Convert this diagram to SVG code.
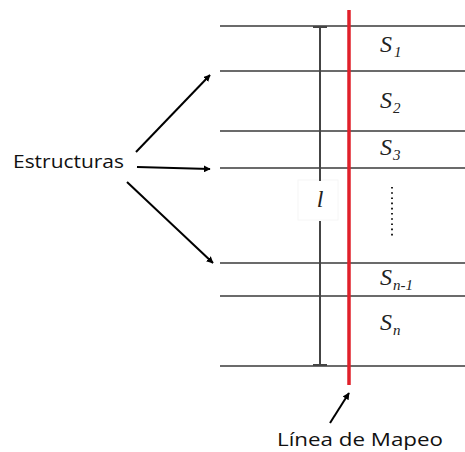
<svg xmlns="http://www.w3.org/2000/svg" width="465" height="452" viewBox="0 0 465 452">
<defs>
<marker id="ah" viewBox="0 0 10 10" refX="9" refY="5" markerWidth="7" markerHeight="7" markerUnits="userSpaceOnUse" orient="auto">
<path d="M0,0 L10,5 L0,10 Z" fill="#000"/>
</marker>
<style>
.hl{stroke:#6b6b6b;stroke-width:2}
.dim{stroke:#444;stroke-width:2}
.arr{stroke:#000;stroke-width:2;fill:none;marker-end:url(#ah)}
.S{font-family:"Liberation Serif",serif;font-style:italic;font-size:24px;fill:#222}
.sub{font-size:15px}
.lbl{font-family:"Open Sans","Liberation Sans",sans-serif;font-size:19px;fill:#111}
</style>
</defs>
<rect width="465" height="452" fill="#fff"/>
<g id="layers">
<line class="hl" x1="220" y1="26" x2="465" y2="26"/>
<line class="hl" x1="220" y1="71" x2="465" y2="71"/>
<line class="hl" x1="220" y1="131" x2="465" y2="131"/>
<line class="hl" x1="220" y1="168" x2="465" y2="168"/>
<line class="hl" x1="220" y1="263" x2="465" y2="263"/>
<line class="hl" x1="220" y1="296" x2="465" y2="296"/>
<line class="hl" x1="220" y1="366" x2="465" y2="366"/>
</g>
<g id="dimension">
<rect x="298" y="180" width="40" height="40" fill="#fff" stroke="#f6f6f6" stroke-width="1"/>
<line class="dim" x1="320" y1="27" x2="320" y2="181"/>
<line class="dim" x1="320" y1="221" x2="320" y2="366"/>
<line class="dim" x1="313" y1="27" x2="327" y2="27"/>
<line class="dim" x1="313" y1="365" x2="327" y2="365"/>
<text class="S" x="320" y="207" text-anchor="middle">l</text>
</g>
<g id="mapping-line">
<line x1="349" y1="10" x2="349" y2="385" stroke="#e0202a" stroke-width="3.5"/>
</g>
<g id="labels">
<text class="S" x="380" y="52">S<tspan class="sub" dx="2" dy="5">1</tspan></text>
<text class="S" x="380" y="108">S<tspan class="sub" dx="1" dy="5">2</tspan></text>
<text class="S" x="380" y="155">S<tspan class="sub" dx="1" dy="5">3</tspan></text>
<text class="S" x="380" y="285">S<tspan class="sub" dx="1" dy="5">n-1</tspan></text>
<text class="S" x="380" y="330">S<tspan class="sub" dx="1" dy="5">n</tspan></text>
<line x1="392" y1="187" x2="392" y2="239" stroke="#222" stroke-width="2" stroke-dasharray="1.6 3.6"/>
</g>
<g id="estructuras">
<text class="lbl" x="13" y="168" textLength="111" lengthAdjust="spacingAndGlyphs">Estructuras</text>
</g>
<g id="linea">
<text class="lbl" x="277" y="446" textLength="166" lengthAdjust="spacingAndGlyphs">Línea de Mapeo</text>
</g>
<g id="connectors">
<line class="arr" x1="136" y1="152" x2="210" y2="75"/>
<line class="arr" x1="137" y1="167" x2="210" y2="169"/>
<line class="arr" x1="127" y1="182" x2="213" y2="263"/>
<line class="arr" x1="330" y1="423" x2="349" y2="393"/>
</g>
</svg>
